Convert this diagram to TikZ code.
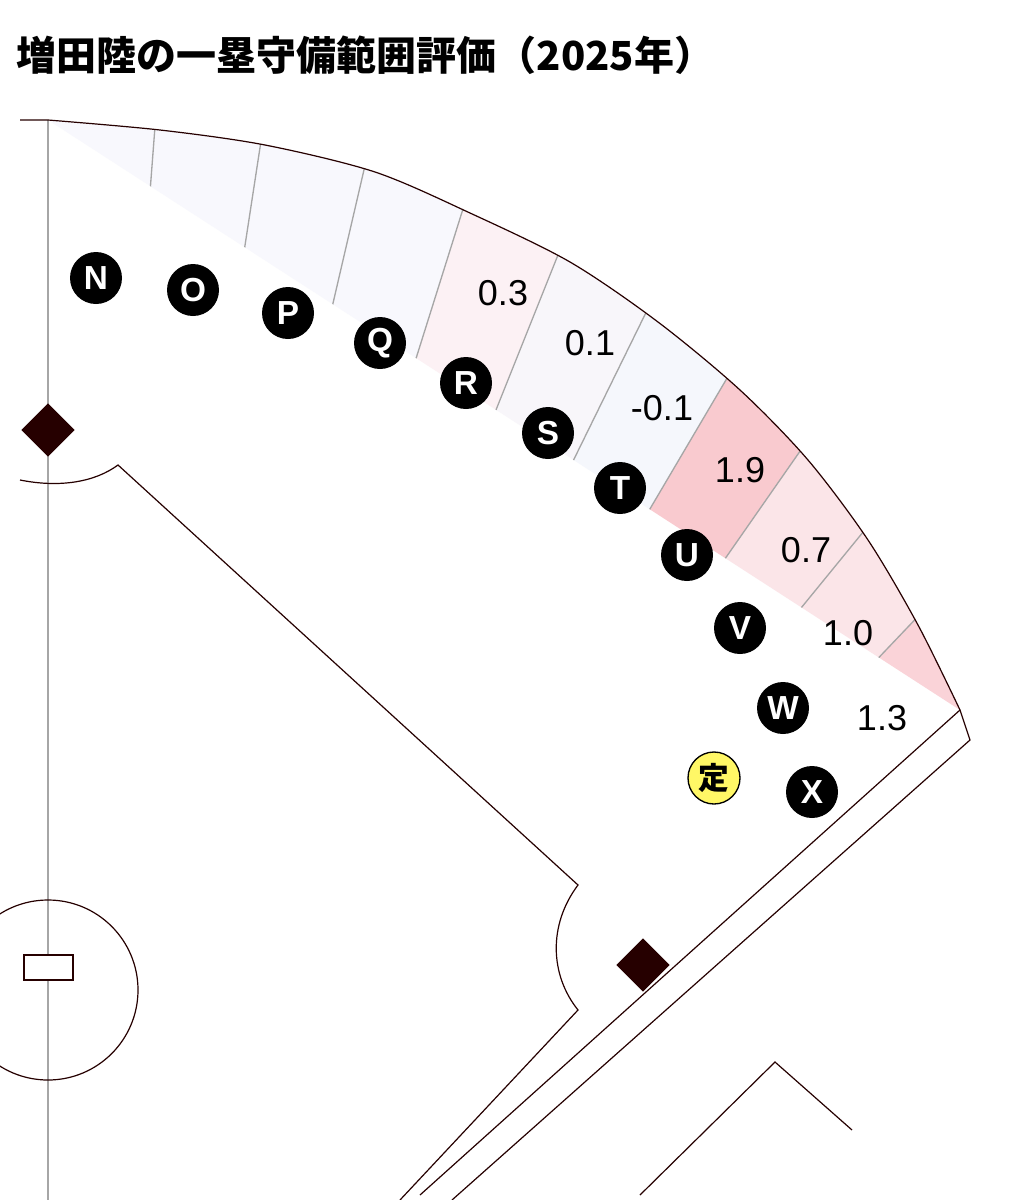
\documentclass[tikz,border=0pt]{standalone}
\usetikzlibrary{shapes.geometric}
\usepackage{fontspec}
\setmainfont{Liberation Sans}
\newfontfamily\cjk{Noto Sans CJK JP}
\begin{document}
\begin{tikzpicture}[x=0.75pt,y=-0.75pt,
  dot/.style={circle,fill=black,minimum size=39pt,inner sep=0pt,text=white,font=\fontsize{25}{25}\selectfont\bfseries},
  val/.style={font=\fontsize{27}{27}\selectfont},
  base/.style={fill=black!85!red,draw=none},
  ln/.style={draw=black!85!red,line width=0.9pt}]
\useasboundingbox (0,0) rectangle (1021,1200);
\fill[white] (0,0) rectangle (1021,1200);
\coordinate (H) at (48,1530);
\begin{scope}
\clip (48,1530) -- (48,120) plot[smooth] coordinates {(48,120) (160,130) (265,145) (375,172) (470,213) (570,262) (658,322) (740,390) (808,460) (868,540) (918,625) (960,710)} -- cycle;
\foreach \k/\c in {0/F8F8FD,1/F8F8FD,2/F8F8FD,3/F8F8FD,4/FCF1F4,5/F8F6FA,6/F5F7FC,7/F9CACF,8/FBE5E8,9/FBE5E8,10/FAD3D8}{
  \definecolor{sc}{HTML}{\c}
  \fill[sc] (H) -- ++({4.36*\k-90}:2000) arc[start angle={4.36*\k-90},end angle={4.36*(\k+1)-90},radius=2000] -- cycle;
}
\foreach \k in {1,...,10}{
  \draw[gray!70,line width=1pt] (H) -- ++({4.36*\k-90}:2000);
}
\end{scope}
\draw[gray!70,line width=1pt] (48,120) -- (48,1200);
% fence
\draw[ln] (20,120) -- (48,120) plot[smooth] coordinates {(48,120) (160,130) (265,145) (375,172) (470,213) (570,262) (658,322) (740,390) (808,460) (868,540) (918,625) (960,710)};
\coordinate (F1) at (960,710);
\coordinate (F2) at (970,740);
\coordinate (F3) at (420,1195);
\coordinate (F4) at (452,1200);
\draw[ln] (F1) -- (F3);
\draw[ln] (F1) -- (F2) -- (F4);
% infield grass line
\coordinate (G1) at (20,480);
\coordinate (G2) at (118,465);
\coordinate (G3) at (578,885);
\coordinate (G4) at (578,1010);
\coordinate (G5) at (400,1200);
\draw[ln] (G1) .. controls (60,488) and (95,482) .. (G2) -- (G3) .. controls (548,925) and (550,975) .. (G4) -- (G5);
% mound
\draw[ln] (48,990) circle[radius=90];
\draw[ln,fill=white] (24,955) rectangle (73,980);
% bases
\node[base,diamond,minimum width=40pt,minimum height=40pt,inner sep=0pt] (b2) at (48,430) {};
\node[base,diamond,minimum width=40pt,minimum height=40pt,inner sep=0pt] (b1) at (643,965) {};
% home lines
\coordinate (P1) at (640,1195);
\coordinate (P2) at (775,1062);
\coordinate (P3) at (852,1130);
\draw[ln] (P1) -- (P2) -- (P3);
% dots
\node[dot] (N) at (96,278) {N};
\node[dot] (O) at (193,290) {O};
\node[dot] (P) at (288,313) {P};
\node[dot] (Q) at (380,343) {Q};
\node[dot] (R) at (466,383) {R};
\node[dot] (S) at (548,433) {S};
\node[dot] (T) at (620,488) {T};
\node[dot] (U) at (687,555) {U};
\node[dot] (V) at (740,628) {V};
\node[dot] (W) at (783,708) {W};
\node[dot] (X) at (812,792) {X};
\node[circle,fill=yellow!60,draw=black,line width=1pt,minimum size=39pt,inner sep=0pt,font=\cjk\fontsize{23}{23}\selectfont\bfseries] (D) at (714,778) {定};
% values
\node[val] (v1) at (503,293) {0.3};
\node[val] (v2) at (590,343) {0.1};
\node[val] (v3) at (662,408) {-0.1};
\node[val] (v4) at (740,470) {1.9};
\node[val] (v5) at (806,550) {0.7};
\node[val] (v6) at (848,633) {1.0};
\node[val] (v7) at (882,718) {1.3};
% title
\node[anchor=west,font=\cjk\fontsize{30}{30}\selectfont\bfseries] (title) at (12,55) {増田陸の一塁守備範囲評価（2025年）};
\end{tikzpicture}
\end{document}
